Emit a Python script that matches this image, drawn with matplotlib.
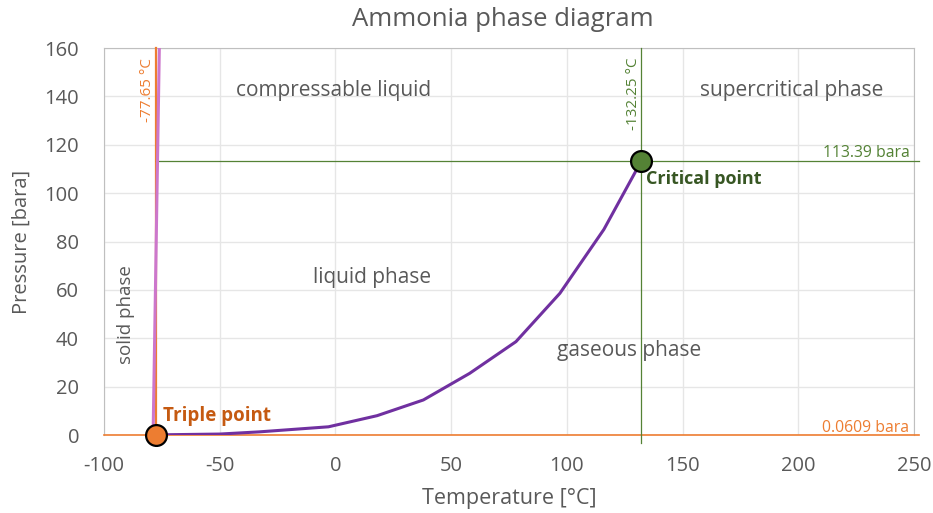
import matplotlib
matplotlib.use("Agg")
import matplotlib.pyplot as plt

plt.rcParams['font.family'] = ['Open Sans', 'DejaVu Sans']
plt.rcParams['axes.unicode_minus'] = False

# Vapour-pressure (boiling) curve of ammonia
boil_T = [-77.65, -50, -33, -3, 18, 38, 58, 78, 97, 116, 132.25]
boil_P = [0.0609, 0.4, 1.3, 3.4, 8.0, 14.5, 25.5, 38.6, 58.6, 85.0, 113.39]

# Melting curve (solid / liquid boundary)
melt_T = [-78.8, -76.1]
melt_P = [0.0609, 160]

# Reference points
triple_T, triple_P = -77.65, 0.0609
critical_T, critical_P = 132.25, 113.39

x_ticks = [-100, -50, 0, 50, 100, 150, 200, 250]
y_ticks = [0, 20, 40, 60, 80, 100, 120, 140, 160]

GREY = '#595959'
ORANGE = '#ED7D31'
ORANGE_DARK = '#C55A11'
GREEN = '#548235'
GREEN_DARK = '#375623'
PURPLE = '#7030A0'
PINK = '#CC77CC'

fig = plt.figure(figsize=(9.33, 5.13), dpi=100)
ax = fig.add_axes([0.1115, 0.152, 0.8681, 0.7544])

ax.set_xlim(-100, 250)
ax.set_ylim(0, 160)
ax.set_xticks(x_ticks)
ax.set_yticks(y_ticks)
ax.tick_params(length=0, labelsize=14.5, colors=GREY)
ax.tick_params(axis='x', pad=15)
ax.tick_params(axis='y', pad=18)
ax.grid(True, color='#E6E6E6', linewidth=1)
ax.set_axisbelow(True)
for side in ['left', 'top', 'right']:
    ax.spines[side].set_color('#BFBFBF')
ax.spines['bottom'].set_visible(False)

# Isobar and isotherm through the triple point
ax.plot([-100, 252], [triple_P, triple_P], color=ORANGE, lw=1.2, clip_on=False, zorder=3)
ax.plot([triple_T, triple_T], [-4, 160], color=ORANGE, lw=1.6, clip_on=False, zorder=3)

# Critical isobar and isotherm
ax.plot([triple_T, 252], [critical_P, critical_P], color=GREEN, lw=0.9, clip_on=False, zorder=3)
ax.plot([critical_T, critical_T], [-3.5, 160], color=GREEN, lw=0.9, clip_on=False, zorder=3)

# Phase boundaries
ax.plot(melt_T, melt_P, color=PINK, lw=2.2, zorder=4)
ax.plot(boil_T, boil_P, color=PURPLE, lw=2.2, zorder=4)

# Triple and critical points
ax.plot(triple_T, triple_P, 'o', ms=15, mfc=ORANGE, mec='black', mew=1.6, clip_on=False, zorder=6)
ax.plot(critical_T, critical_P, 'o', ms=15, mfc=GREEN, mec='black', mew=1.6, clip_on=False, zorder=6)

ax.text(triple_T + 3, 8, 'Triple point', color=ORANGE_DARK, fontsize=13.5,
        fontweight='bold', ha='left', va='center')
ax.text(critical_T + 2, 106, 'Critical point', color=GREEN_DARK, fontsize=13,
        fontweight='bold', ha='left', va='center')

ax.text(248, 113.2, '113.39 bara', color=GREEN, fontsize=11.3, ha='right', va='bottom')
ax.text(248, -0.6, '0.0609 bara', color=ORANGE, fontsize=11.3, ha='right', va='bottom')

ax.text(triple_T - 3.5, 156, '-77.65 °C', color=ORANGE, fontsize=11,
        rotation=90, ha='center', va='top')
ax.text(critical_T - 3.5, 156, '-132.25 °C', color=GREEN, fontsize=11,
        rotation=90, ha='center', va='top')

# Phase region labels
ax.text(-1, 142.5, 'compressable liquid', color=GREY, fontsize=15, ha='center', va='center')
ax.text(197, 142.5, 'supercritical phase', color=GREY, fontsize=15, ha='center', va='center')
ax.text(16, 65, 'liquid phase', color=GREY, fontsize=15, ha='center', va='center')
ax.text(127, 35, 'gaseous phase', color=GREY, fontsize=15, ha='center', va='center')
ax.text(-90.5, 50, 'solid phase', color=GREY, fontsize=13.5, rotation=90, ha='center', va='center')

ax.set_xlabel('Temperature [°C]', color=GREY, fontsize=15.5, labelpad=9)
ax.set_ylabel('Pressure [bara]', color=GREY, fontsize=14.5, labelpad=9)
fig.text(0.539, 0.962, 'Ammonia phase diagram', color=GREY, fontsize=18.5, ha='center', va='center')

fig.savefig('out.png', dpi=100, facecolor='white')
